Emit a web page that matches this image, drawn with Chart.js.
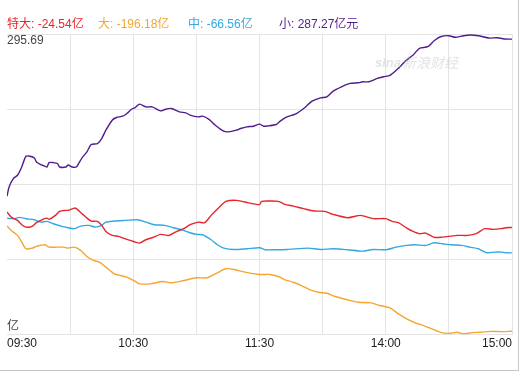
<!DOCTYPE html>
<html><head><meta charset="utf-8">
<script src="https://cdn.jsdelivr.net/npm/chart.js@4"></script>
<style>
html,body{margin:0;padding:0;background:#fff;}
#wrap{position:relative;width:518px;height:370px;border-right:1px solid #c8c8c8;border-bottom:1px solid #c8c8c8;}
canvas{display:block;}
</style></head>
<body><div id="wrap"><canvas id="c" width="523" height="372"></canvas></div>
<script>
// minutes since 09:30 (trading minutes; 120 = 11:30/13:00, 240 = 15:00)
const xTickLabels = {0:'09:30',60:'10:30',120:'11:30',180:'14:00',240:'15:00'};
const yMax = 295.69, yMin = -201.8;

const legendTexts = ['特大: -24.54亿','大: -196.18亿','中: -66.56亿','小: 287.27亿元'];
const seriesColors = ['#e5262c','#f5a531','#33a9e0','#4f1d8c'];

const superMin = [0,2,5,7,9,12,14,17,19,20,23,25,28,29,32,33,36,38,40,43,45,47,50,53,56,59,61,63,66,69,73,77,81,84,87,91,94,97,101,104,109,113,120,121,125,129,132,136,141,146,151,155,162,168,174,180,183,186,190,193,196,199,203,207,211,214,219,223,227,231,235,237,240];
const superVal = [1.0,-7.3,-12.8,-19.9,-23.9,-22.7,-16.6,-11.1,-9.0,-11.1,-4.5,2.2,3.8,3.8,7.6,6.6,-2.8,-9.0,-13.9,-14.4,-21.1,-31.0,-37.6,-39.3,-43.1,-46.4,-48.8,-50.4,-44.8,-41.5,-36.0,-37.6,-30.5,-26.5,-19.9,-15.6,-16.6,-4.5,9.3,18.7,20.4,17.6,13.3,18.7,19.2,18.7,13.8,10.9,6.6,2.7,2.2,-2.8,-8.3,-4.5,-9.9,-9.9,-14.4,-16.6,-25.5,-31.0,-34.8,-33.8,-40.9,-40.4,-38.8,-37.6,-37.6,-34.8,-26.5,-27.7,-26.5,-24.9,-24.54];

const largeMin = [0,2,5,7,9,12,14,18,20,24,27,29,32,35,38,41,44,47,51,54,57,61,63,68,74,78,84,90,95,100,104,108,113,120,125,129,132,136,140,144,148,152,156,162,167,173,177,182,186,190,194,198,202,206,210,214,217,221,225,230,235,240];
const largeVal = [-22.2,-29.4,-37.6,-48.8,-59.7,-58.7,-55.9,-53.1,-57.1,-57.1,-57.1,-58.7,-57.1,-62.5,-72.5,-79.1,-81.9,-90.2,-101.2,-104.0,-106.8,-113.9,-117.8,-117.8,-113.9,-116.1,-112.3,-107.8,-107.8,-99.5,-92.9,-94.0,-98.5,-102.3,-102.3,-105.6,-111.1,-115.1,-120.6,-127.7,-131.7,-133.4,-138.8,-144.3,-148.3,-149.3,-153.7,-157.6,-167.5,-175.8,-182.4,-186.9,-192.4,-198.0,-199.7,-198.0,-200.7,-198.5,-198.0,-196.4,-196.9,-196.18];

const midMin = [0,3,6,9,13,16,19,22,26,29,32,35,39,42,45,47,51,56,62,66,70,75,79,83,87,90,93,97,100,103,108,114,120,123,127,133,143,149,155,162,169,174,180,185,190,194,199,203,207,211,216,220,224,228,232,235,237,240];
const midVal = [-9.0,-10.0,-7.8,-10.0,-11.7,-15.6,-14.4,-18.3,-22.7,-24.9,-26.5,-22.2,-21.1,-23.9,-21.1,-15.6,-13.9,-12.8,-11.7,-15.6,-19.9,-21.1,-24.9,-28.2,-33.2,-36.0,-36.5,-44.8,-53.1,-58.7,-60.9,-59.7,-58.1,-61.4,-61.4,-60.9,-58.7,-60.9,-59.7,-61.4,-63.7,-60.9,-61.4,-57.1,-54.2,-53.1,-54.2,-49.8,-51.4,-53.1,-54.2,-57.1,-59.7,-66.3,-65.3,-65.3,-66.3,-66.56];

const smallMin = [0,1,3,5,7,9,11,13,14,16,17,19,20,22,24,25,28,29,31,33,34,36,38,40,43,45,47,50,52,55,57,59,61,63,66,69,73,75,78,82,85,87,91,93,96,99,103,105,109,111,114,117,120,122,124,128,130,133,137,141,145,149,152,155,159,163,167,169,172,176,179,182,186,189,193,196,200,203,206,210,213,217,220,224,229,233,237,240];
const smallVal = [27.0,42.5,56.4,61.9,75.6,93.4,93.4,90.6,83.9,79.6,78.4,75.6,82.9,82.9,81.3,75.6,75.6,78.9,75.6,75.6,81.3,92.2,100.5,112.8,114.4,122.7,136.5,153.0,157.5,159.7,164.2,170.8,174.1,179.6,175.1,175.1,168.5,170.8,172.5,166.8,165.2,161.4,158.5,159.7,154.3,144.8,134.8,133.7,136.5,139.3,142.0,143.1,146.5,143.1,143.6,145.9,151.9,158.5,163.0,172.5,184.6,190.1,191.7,201.2,208.3,213.9,214.9,216.6,216.6,222.2,224.9,227.2,238.8,249.8,260.9,272.0,274.6,284.6,291.2,292.9,290.2,292.9,294.0,292.8,289.0,289.5,287.3,287.27];

function pts(xs, ys){ return xs.map((m,i)=>({x:m,y:ys[i]})); }

const FONT = '"Liberation Sans", Arial, "Noto Sans CJK SC", sans-serif';

const textPlugin = {
  id:'texts',
  afterDraw(chart){
    const ctx = chart.ctx, a = chart.chartArea;
    ctx.save();
    ctx.font = '12px ' + FONT;
    ctx.textBaseline = 'middle';
    ctx.textAlign = 'left';
    const lx = [7, 98, 188, 279];
    legendTexts.forEach((t,i)=>{ ctx.fillStyle = seriesColors[i]; ctx.fillText(t, lx[i], 25); });
    ctx.fillStyle = '#444';
    ctx.fillText(yMax.toFixed(2), a.left, a.top + 7);
    ctx.fillText('亿', a.left, a.bottom - 8);
    // watermark
    ctx.fillStyle = 'rgba(200,200,200,0.5)';
    ctx.font = 'italic bold 13px ' + FONT;
    ctx.fillText('sina', 375, 63);
    ctx.font = 'italic 14px "Noto Sans CJK SC", sans-serif';
    ctx.fillText('新浪财经', 402, 63);
    ctx.restore();
  }
};

const mk = (label, data, color) => ({label, data, borderColor:color, borderWidth:1.4, pointRadius:0, tension:0.25, fill:false});

new Chart(document.getElementById('c'), {
  type:'line',
  data:{ datasets:[
    mk('特大', pts(superMin, superVal), seriesColors[0]),
    mk('大', pts(largeMin, largeVal), seriesColors[1]),
    mk('中', pts(midMin, midVal), seriesColors[2]),
    mk('小', pts(smallMin, smallVal), seriesColors[3])
  ]},
  options:{
    responsive:false, animation:false,
    layout:{padding:{left:7, right:11, top:34, bottom:19}},
    plugins:{legend:{display:false}, tooltip:{enabled:false}},
    scales:{
      x:{type:'linear', min:0, max:240,
        afterBuildTicks(s){ s.ticks = [0,30,60,90,120,150,180,210,240].map(v=>({value:v})); },
        grid:{color:(c)=> c.tick && c.tick.value===0 ? 'rgba(0,0,0,0)' : '#e4e4e4', drawTicks:false, lineWidth:1},
        border:{display:false},
        ticks:{autoSkip:false, maxRotation:0, padding:2, align:'inner', color:'#222', font:{size:12, family:FONT},
          callback:(v)=> xTickLabels[v] || ''}
      },
      y:{min:yMin, max:yMax,
        afterBuildTicks(s){ const t=[]; for(let i=0;i<=4;i++) t.push({value:yMin+(yMax-yMin)*i/4}); s.ticks=t; },
        grid:{color:'#e4e4e4', drawTicks:false, lineWidth:1},
        border:{display:false},
        ticks:{display:false}
      }
    }
  },
  plugins:[textPlugin]
});
</script></body></html>
